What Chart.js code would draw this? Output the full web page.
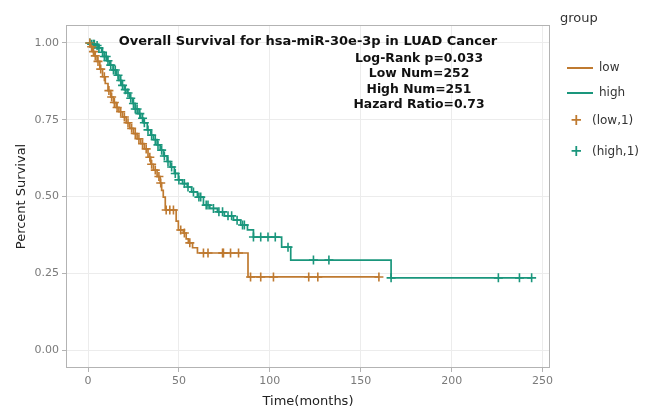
<!DOCTYPE html>
<html>
<head>
<meta charset="utf-8">
<script src="https://cdn.jsdelivr.net/npm/chart.js@4/dist/chart.umd.min.js"></script>
<style>
  html, body { margin: 0; padding: 0; background: #fff; }
  #wrap { position: relative; width: 661px; height: 415px; font-family: "DejaVu Sans", Verdana, sans-serif; }
  canvas { position: absolute; left: 0; top: 0; }
  .note { position: absolute; font-weight: bold; font-size: 12.4px; color: #111; white-space: nowrap; transform: translate(-50%, -50%); }
  .note.big { font-size: 13px; }
  .leg { position: absolute; font-size: 12px; color: #333; white-space: nowrap; }
  .legtitle { position: absolute; left: 560px; top: 10px; font-size: 13px; color: #333; }
  .sw { position: absolute; width: 26px; height: 2px; }
  .plus { position: absolute; font-size: 15px; font-weight: bold; line-height: 1; }
</style>
</head>
<body>
<div id="wrap">
  <canvas id="km" width="661" height="415"></canvas>
</div>
<script>
// ── Data ─────────────────────────────────────────────────────────────────────

// low group: time of each step (months) and survival after it
const lowTimes = [0, 1.5, 2.5, 3.5, 5, 6.5, 8, 9.5, 11, 12.5, 14, 15.5, 17, 19, 21, 23, 25, 27, 29, 31,
  33, 34.5, 36, 38, 39.7, 40.5, 41.4, 42.5, 48.5, 49.7, 52.4, 54, 55.2, 57.5, 60.2, 88, 160];
const lowSurv = [1.000, 0.988, 0.972, 0.958, 0.940, 0.915, 0.890, 0.868, 0.845, 0.824, 0.806, 0.790, 0.776,
  0.759, 0.740, 0.722, 0.705, 0.688, 0.672, 0.655, 0.628, 0.605, 0.586, 0.565, 0.544, 0.520, 0.498,
  0.456, 0.420, 0.391, 0.381, 0.362, 0.349, 0.333, 0.316, 0.238, 0.238];
const lowCensor = [1, 2, 3, 4, 5.5, 7, 9, 11.5, 13, 14.5, 16, 18, 20, 22, 24, 26, 28, 30, 32, 34, 35, 37,
  39, 40, 43, 45, 47, 51, 53, 56, 63.5, 66, 74, 74.5, 78.4, 82.8, 89.4, 95, 102, 121.4, 126.4, 160];

// high group
const highTimes = [0, 2, 4, 6, 7.5, 9, 10.5, 12, 13.8, 15.5, 17, 18.5, 20, 21.5, 23, 24.5, 26, 27.5, 29,
  30.5, 32.6, 34.5, 36, 38, 39.7, 41.5, 43.5, 45.3, 47.5, 49.7, 52, 54.6, 57, 60.2, 63.5, 67, 71.2, 75,
  80, 84, 87.7, 91, 106.5, 111.5, 166.7, 244];
const highSurv = [1.000, 0.996, 0.992, 0.984, 0.970, 0.956, 0.942, 0.928, 0.912, 0.895, 0.878, 0.862,
  0.848, 0.837, 0.820, 0.803, 0.785, 0.770, 0.755, 0.740, 0.717, 0.700, 0.685, 0.668, 0.651, 0.632,
  0.614, 0.596, 0.575, 0.554, 0.542, 0.531, 0.515, 0.498, 0.472, 0.461, 0.450, 0.437, 0.423, 0.407,
  0.391, 0.368, 0.335, 0.293, 0.235, 0.235];
const highCensor = [1, 2, 3, 3.5, 5, 6, 8, 9, 10, 11, 12.5, 14, 15, 16.5, 18, 19, 20.5, 22, 23.5, 25, 26,
  27, 28.5, 30, 31, 33, 35, 37, 38.5, 40.5, 42, 44, 46, 48, 50, 53, 55, 58, 61, 62, 65, 66, 69, 72, 74,
  77, 79, 82, 85, 86, 91, 95, 99, 103, 110, 124, 132.5, 166.7, 225.7, 237.3, 244];

const xTicks = [0, 50, 100, 150, 200, 250];
const yTicks = [0, 0.25, 0.5, 0.75, 1];

const noteLines = ["Log-Rank p=0.033", "Low Num=252", "High Num=251", "Hazard Ratio=0.73"];
const titleText = "Overall Survival for hsa-miR-30e-3p in LUAD Cancer";

const LOW = "#BF7A30";
const HIGH = "#1A967C";

// ── Helpers ──────────────────────────────────────────────────────────────────

// survival value of a step curve at time t (last step at or before t)
function survAt(times, surv, t) {
  let s = surv[0];
  for (let i = 0; i < times.length; i++) {
    if (times[i] <= t) s = surv[i];
  }
  return s;
}

const toXY = (times, surv) => times.map((t, i) => ({ x: t, y: surv[i] }));
const censorXY = (cens, times, surv) => cens.map(t => ({ x: t, y: survAt(times, surv, t) }));

// grey frame round the plot panel
const panelBorder = {
  id: "panelBorder",
  afterDraw(chart) {
    const a = chart.chartArea, ctx = chart.ctx;
    ctx.save();
    ctx.strokeStyle = "#b3b3b3";
    ctx.lineWidth = 1;
    ctx.strokeRect(a.left + 0.5, a.top + 0.5, a.right - a.left - 1, a.bottom - a.top - 1);
    ctx.restore();
  }
};

// ── Chart ────────────────────────────────────────────────────────────────────

new Chart(document.getElementById("km"), {
  type: "scatter",
  data: {
    datasets: [
      { data: toXY(lowTimes, lowSurv), showLine: true, stepped: "before", borderColor: LOW,
        borderWidth: 1.7, pointRadius: 0 },
      { data: toXY(highTimes, highSurv), showLine: true, stepped: "before", borderColor: HIGH,
        borderWidth: 1.7, pointRadius: 0 },
      { data: censorXY(lowCensor, lowTimes, lowSurv), pointStyle: "cross", pointRadius: 4.5,
        borderColor: LOW, borderWidth: 1.6 },
      { data: censorXY(highCensor, highTimes, highSurv), pointStyle: "cross", pointRadius: 4.5,
        borderColor: HIGH, borderWidth: 1.6 },
    ],
  },
  options: {
    responsive: false,
    animation: false,
    layout: { padding: { left: 14, right: 111, top: 25, bottom: 0 } },
    plugins: { legend: { display: false }, tooltip: { enabled: false } },
    scales: {
      x: {
        type: "linear", min: -12.1, max: 254.1,
        afterBuildTicks: s => { s.ticks = xTicks.map(v => ({ value: v })); },
        afterFit: s => { s.height = 47; },
        grid: { color: "#ececec", tickColor: "#b3b3b3", tickLength: 4 },
        border: { display: false },
        ticks: { color: "#7a7a7a", font: { family: "DejaVu Sans", size: 11 }, padding: 3, maxRotation: 0 },
        title: { display: true, text: "Time(months)", color: "#222",
          font: { family: "DejaVu Sans", size: 13 }, padding: { top: 2, bottom: 6 } },
      },
      y: {
        type: "linear", min: -0.0586, max: 1.0586,
        afterBuildTicks: s => { s.ticks = yTicks.map(v => ({ value: v })); },
        afterFit: s => { s.width = 52; },
        grid: { color: "#ececec", tickColor: "#b3b3b3", tickLength: 4 },
        border: { display: false },
        ticks: { color: "#7a7a7a", font: { family: "DejaVu Sans", size: 11 }, padding: 3,
          callback: v => v.toFixed(2) },
        title: { display: true, text: "Percent Survival", color: "#222",
          font: { family: "DejaVu Sans", size: 13 }, padding: { top: 0, bottom: 2 } },
      },
    },
  },
  plugins: [panelBorder],
});

// ── Annotations and legend (HTML overlay) ────────────────────────────────────

const wrap = document.getElementById("wrap");
function addDiv(cls, text, left, top, extra) {
  const d = document.createElement("div");
  d.className = cls;
  d.textContent = text;
  d.style.left = left + "px";
  d.style.top = top + "px";
  if (extra) Object.assign(d.style, extra);
  wrap.appendChild(d);
  return d;
}

addDiv("note big", titleText, 308, 40);
noteLines.forEach((t, i) => addDiv("note", t, 419, 57 + i * 15.4));

addDiv("legtitle", "group", 560, 10);
addDiv("sw", "", 567, 67, { background: LOW });
addDiv("leg", "low", 599, 60);
addDiv("sw", "", 567, 92, { background: HIGH });
addDiv("leg", "high", 599, 85);
addDiv("plus", "+", 570, 113, { color: LOW });
addDiv("leg", "(low,1)", 592, 113);
addDiv("plus", "+", 570, 144, { color: HIGH });
addDiv("leg", "(high,1)", 592, 144);
</script>
</body>
</html>
